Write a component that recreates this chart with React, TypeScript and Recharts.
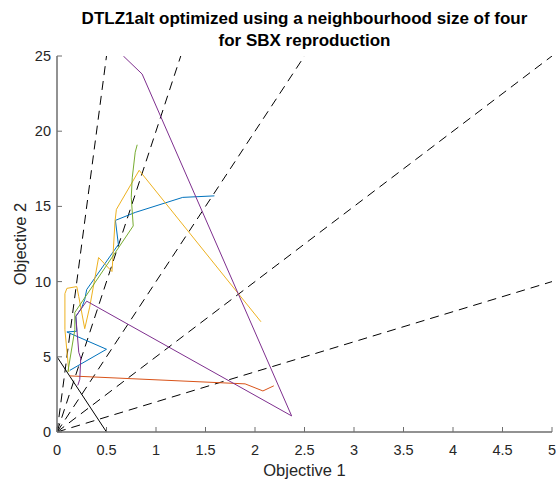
import React from "react";
import { ComposedChart, Line, XAxis, YAxis, Label } from "recharts";

// axis ticks
const xTicks = [0, 0.5, 1, 1.5, 2, 2.5, 3, 3.5, 4, 4.5, 5];
const yTicks = [0, 5, 10, 15, 20, 25];

// reference directions (dashed rays from the origin), end points
const rayEndX = [0.5, 1.25, 2.5, 5, 5];
const rayEndY = [25, 25, 25, 25, 10];

// true front
const frontX = [0, 0.5];
const frontY = [5, 0];

// run traces
const blueX = [0.13, 0.5, 0.1, 0.2, 0.19, 0.25, 0.28, 0.3, 0.62, 0.59, 0.79, 1.27, 1.59];
const blueY = [4.1, 5.5, 6.65, 6.7, 7.67, 8.27, 8.8, 9.47, 12.47, 14.07, 14.6, 15.6, 15.7];

const redX = [0.13, 1.9, 2.08, 2.19];
const redY = [3.73, 3.2, 2.73, 3.07];

const yellowX = [0.12, 0.08, 0.08, 0.1, 0.2, 0.22, 0.28, 0.33, 0.42, 0.555, 0.56, 0.586, 0.6, 0.83, 2.06];
const yellowY = [4.0, 6.8, 9.2, 9.55, 9.67, 9.0, 6.87, 8.3, 11.6, 10.67, 11.1, 14.0, 14.8, 17.4, 7.33];

const purpleX = [0.67, 0.86, 2.37, 0.3, 0.19, 0.22, 0.24, 0.23, 0.21];
const purpleY = [25, 23.8, 1.07, 8.7, 7.7, 5.3, 4.9, 3.5, 3.1];

const greenX = [0.11, 0.18, 0.18, 0.77, 0.75, 0.76, 0.79, 0.81];
const greenY = [4.0, 6.8, 7.95, 13.7, 15.6, 16.9, 18.6, 19.1];

const toPts = (xs: number[], ys: number[]) => xs.map((x, i) => ({ x, y: ys[i] }));

const series = [
  { name: "run1", color: "#0072BD", data: toPts(blueX, blueY) },
  { name: "run2", color: "#D95319", data: toPts(redX, redY) },
  { name: "run3", color: "#EDB120", data: toPts(yellowX, yellowY) },
  { name: "run4", color: "#7E2F8E", data: toPts(purpleX, purpleY) },
  { name: "run5", color: "#77AC30", data: toPts(greenX, greenY) },
];

const rays = rayEndX.map((x, i) => [{ x: 0, y: 0 }, { x, y: rayEndY[i] }]);
const front = toPts(frontX, frontY);

const AXIS = "#6e6e6e";
const TEXT = "#262626";
const FONT = "'Liberation Sans', Arial, Helvetica, sans-serif";

const XTick = (props: any) => {
  const { x, y, payload } = props;
  return (
    <g>
      <line x1={x} y1={y} x2={x} y2={y - 5} stroke={AXIS} strokeWidth={1} />
      <text x={x} y={y + 23} textAnchor="middle" fontSize={14.5} fill={TEXT}>
        {payload.value}
      </text>
    </g>
  );
};

const YTick = (props: any) => {
  const { x, y, payload } = props;
  return (
    <g>
      <line x1={x} y1={y} x2={x + 5} y2={y} stroke={AXIS} strokeWidth={1} />
      <text x={x - 6} y={y + 5} textAnchor="end" fontSize={14.5} fill={TEXT}>
        {payload.value}
      </text>
    </g>
  );
};

export default function App() {
  return (
    <div
      style={{
        position: "absolute",
        left: 0,
        top: 0,
        width: 556,
        height: 480,
        background: "#fff",
        fontFamily: FONT,
      }}
    >
      <div
        style={{
          position: "absolute",
          left: 57,
          width: 495,
          top: 8,
          textAlign: "center",
          fontWeight: "bold",
          fontSize: 17,
          lineHeight: "22px",
          color: "#000",
          whiteSpace: "nowrap",
        }}
      >
        <div>DTLZ1alt optimized using a neighbourhood size of four</div>
        <div>for SBX reproduction</div>
      </div>
      <ComposedChart
        width={556}
        height={480}
        margin={{ top: 56, right: 4, bottom: 0, left: 0 }}
      >
        <XAxis
          type="number"
          dataKey="x"
          domain={[0, 5]}
          ticks={xTicks}
          allowDataOverflow
          height={48}
          tickSize={0}
          tickMargin={0}
          tick={<XTick />}
          axisLine={{ stroke: AXIS, strokeWidth: 1.5 }}
          tickLine={false}
        >
          <Label
            value="Objective 1"
            position="insideBottom"
            offset={4}
            style={{ fontSize: 16.5, fill: TEXT, fontFamily: FONT }}
          />
        </XAxis>
        <YAxis
          type="number"
          dataKey="y"
          domain={[0, 25]}
          ticks={yTicks}
          allowDataOverflow
          width={57}
          tickSize={0}
          tickMargin={0}
          tick={<YTick />}
          axisLine={{ stroke: AXIS, strokeWidth: 1.5 }}
          tickLine={false}
        >
          <Label
            value="Objective 2"
            position="insideLeft"
            angle={-90}
            offset={20}
            style={{ fontSize: 16.5, fill: TEXT, textAnchor: "middle", fontFamily: FONT }}
          />
        </YAxis>
        {rays.map((d, i) => (
          <Line
            key={"ray" + i}
            data={d}
            dataKey="y"
            type="linear"
            stroke="#000"
            strokeWidth={1}
            strokeDasharray="9 6"
            dot={false}
            activeDot={false}
            isAnimationActive={false}
          />
        ))}
        <Line
          data={front}
          dataKey="y"
          type="linear"
          stroke="#000"
          strokeWidth={1}
          dot={false}
          activeDot={false}
          isAnimationActive={false}
        />
        {series.map((s) => (
          <Line
            key={s.name}
            data={s.data}
            dataKey="y"
            name={s.name}
            type="linear"
            stroke={s.color}
            strokeWidth={1}
            dot={false}
            activeDot={false}
            isAnimationActive={false}
          />
        ))}
      </ComposedChart>
    </div>
  );
}
